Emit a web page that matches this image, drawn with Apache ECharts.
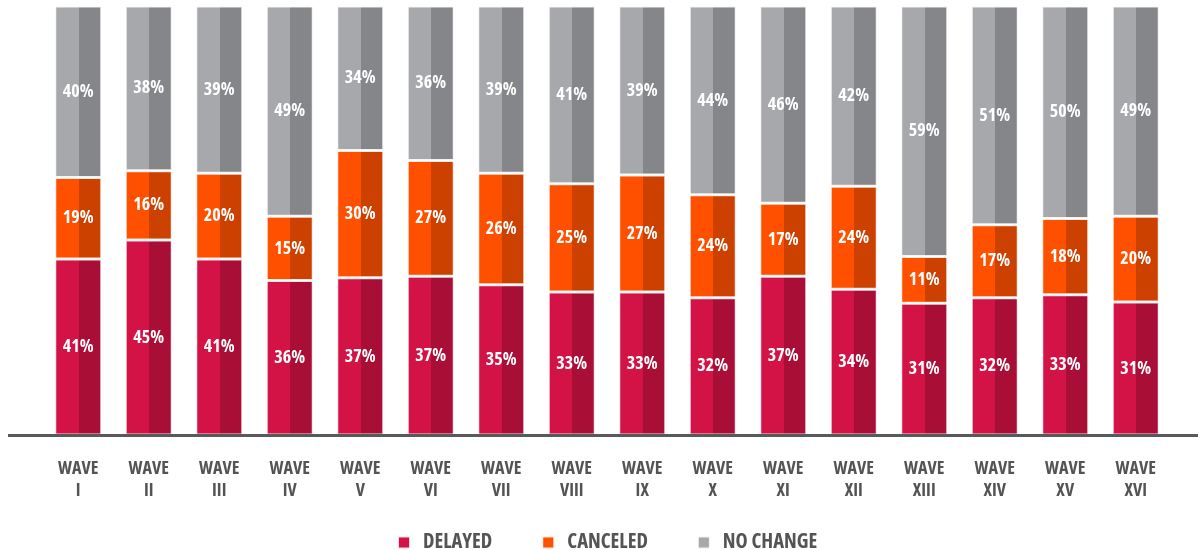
<!DOCTYPE html>
<html>
<head>
<meta charset="utf-8">
<script src="https://cdn.jsdelivr.net/npm/echarts@6/dist/echarts.min.js"></script>
<style>
  html, body { margin: 0; padding: 0; background: #fff; }
  #chart { width: 1198px; height: 550px; }
</style>
</head>
<body>
<div id="chart"></div>
<script>
// data
const waves = ["I", "II", "III", "IV", "V", "VI", "VII", "VIII", "IX", "X", "XI", "XII", "XIII", "XIV", "XV", "XVI"];
const delayed = [41, 45, 41, 36, 37, 37, 35, 33, 33, 32, 37, 34, 31, 32, 33, 31];
const canceled = [19, 16, 20, 15, 30, 27, 26, 25, 27, 24, 17, 24, 11, 17, 18, 20];
const noChange = [40, 38, 39, 49, 34, 36, 39, 41, 39, 44, 46, 42, 59, 51, 50, 49];

const FONT = "'Open Sans', sans-serif";
const WEIGHT = "bold condensed"; // goes into the canvas font string

// 100% stacked bars: each wave fills the full height, labels keep the rounded values
const totals = waves.map((w, i) => delayed[i] + canceled[i] + noChange[i]);
function share(arr) {
  return arr.map((v, i) => ({ value: v / totals[i] * 100, raw: v }));
}

function twoTone(light, dark) {
  return new echarts.graphic.LinearGradient(0, 0, 1, 0, [
    { offset: 0, color: light },
    { offset: 0.51, color: light },
    { offset: 0.51, color: dark },
    { offset: 1, color: dark }
  ]);
}

function makeSeries(name, arr, light, dark) {
  return {
    name: name,
    type: "bar",
    stack: "all",
    barWidth: 47,
    data: share(arr),
    itemStyle: {
      color: twoTone(light, dark),
      borderColor: "rgba(255,255,255,0.85)",
      borderWidth: 1.5
    },
    label: {
      show: true,
      position: "inside",
      color: "#fff",
      fontFamily: FONT,
      fontWeight: WEIGHT,
      fontSize: 18,
      formatter: p => p.data.raw + "%"
    }
  };
}

let chart = echarts.init(document.getElementById("chart"));
let option = {
  animation: false,
  grid: { left: 43, right: 27, top: 6, bottom: 115 },
  legend: {
    left: 397,
    top: 532,
    padding: 0,
    icon: "rect",
    itemWidth: 12,
    itemHeight: 12,
    itemGap: 49,
    textStyle: {
      color: "#545454",
      fontFamily: FONT,
      fontWeight: WEIGHT,
      fontSize: 20.5,
      padding: [0, 0, 0, 8]
    },
    data: [
      { name: "DELAYED", itemStyle: { color: "#D31245" } },
      { name: "CANCELED", itemStyle: { color: "#FF5000" } },
      { name: "NO CHANGE", itemStyle: { color: "#A7A8AC" } }
    ]
  },
  xAxis: {
    type: "category",
    data: waves.map(w => "WAVE\n" + w),
    axisLine: { show: false },
    axisTick: { show: false },
    axisLabel: {
      color: "#545454",
      fontFamily: FONT,
      fontWeight: WEIGHT,
      fontSize: 18,
      lineHeight: 22,
      margin: 23,
      interval: 0
    }
  },
  yAxis: {
    type: "value",
    min: 0,
    max: 100,
    show: false,
    splitLine: { show: false }
  },
  graphic: [{
    type: "rect",
    shape: { x: 8, y: 434, width: 1190, height: 3 },
    style: { fill: "#58595B" },
    z: 10
  }],
  series: [
    makeSeries("DELAYED", delayed, "#D31245", "#A80E36"),
    makeSeries("CANCELED", canceled, "#FF5000", "#CC4000"),
    makeSeries("NO CHANGE", noChange, "#A7A8AC", "#85868A")
  ]
};
chart.setOption(option);
</script>
</body>
</html>
